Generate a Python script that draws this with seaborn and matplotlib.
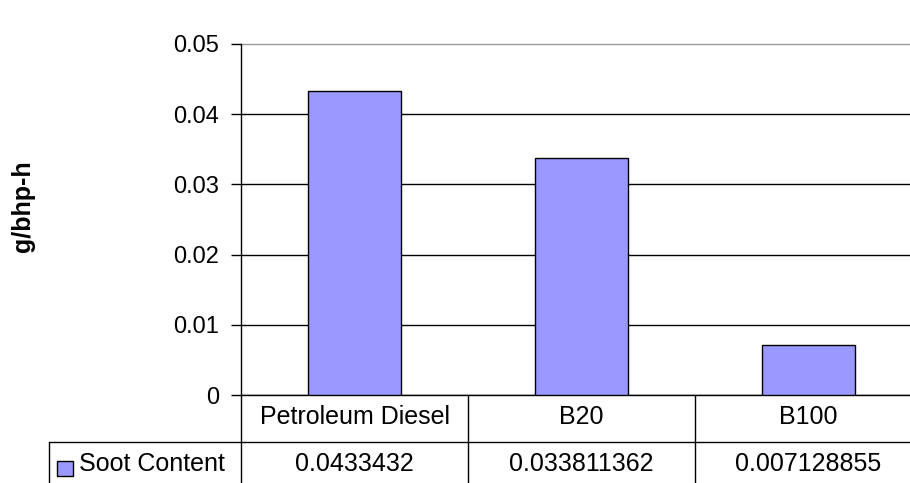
import pandas as pd
import matplotlib.pyplot as plt
from matplotlib.lines import Line2D
from matplotlib.patches import Rectangle
from matplotlib.transforms import blended_transform_factory
import seaborn as sns

# data
fuels = ['Petroleum Diesel', 'B20', 'B100']
soot = [0.0433432, 0.033811362, 0.007128855]
soot_labels = ['0.0433432', '0.033811362', '0.007128855']
series_name = 'Soot Content'
y_ticks = [0, 0.01, 0.02, 0.03, 0.04, 0.05]
y_tick_labels = ['0', '0.01', '0.02', '0.03', '0.04', '0.05']

df = pd.DataFrame({'fuel': fuels, 'soot': soot})

sns.set_theme(style='white')
plt.rcParams['font.family'] = ['Liberation Sans', 'DejaVu Sans']
plt.rcParams['text.color'] = 'black'
plt.rcParams['ytick.color'] = 'black'
plt.rcParams['ytick.labelcolor'] = 'black'

W, H = 910, 483
fig = plt.figure(figsize=(W / 100, H / 100), dpi=100)

def fx(px):
    return px / W

def fy(py):
    return 1 - py / H

# plot area in pixels
left, right, top, bottom = 241, 910, 44, 395
ax = fig.add_axes([fx(left), fy(bottom), fx(right - left), fy(top) - fy(bottom)])

sns.barplot(data=df, x='fuel', y='soot', color='#9999FF', edgecolor='black',
            linewidth=1, width=0.41, saturation=1, ax=ax, zorder=3)

ax.set_xlim(-0.5, 2.447)
ax.set_ylim(0, 0.05)
ax.set_yticks(y_ticks)
ax.set_yticklabels(y_tick_labels, fontsize=17, color='black')
ax.set_xticks([])
ax.set_xlabel('')
ax.set_ylabel('')
ax.tick_params(axis='y', direction='out', length=7, width=1, color='black', left=True, pad=9)

for s in ['top', 'right']:
    ax.spines[s].set_visible(False)
ax.spines['left'].set_color('black')
ax.spines['bottom'].set_color('black')
ax.spines['left'].set_linewidth(1)
ax.spines['bottom'].set_linewidth(1)

ax.grid(axis='y', color='black', linewidth=1, zorder=0)
ax.set_axisbelow(True)
glines = ax.yaxis.get_gridlines()
glines[-1].set_color('#999999')
glines[-1].set_clip_on(False)

fig.text(fx(23), fy(206), 'g/bhp-h', rotation=90, fontsize=18, fontweight='bold',
         ha='center', va='center', color='black')

# data table under the chart
trans = blended_transform_factory(ax.transData, fig.transFigure)
row1_top, row_mid, row2_bot = 395, 442, 483
for i in range(len(fuels) + 1):
    xpos = i - 0.5
    fig.add_artist(Line2D([xpos, xpos], [fy(row1_top), fy(row2_bot)], transform=trans,
                          color='black', linewidth=1))
fig.add_artist(Line2D([fx(49), 1], [fy(row_mid), fy(row_mid)], transform=fig.transFigure,
                      color='black', linewidth=1))
fig.add_artist(Line2D([fx(49), fx(49)], [fy(row_mid), fy(row2_bot)], transform=fig.transFigure,
                      color='black', linewidth=1))

for i, (name, lab) in enumerate(zip(fuels, soot_labels)):
    fig.text(i, fy(417), name, transform=trans, ha='center', va='center', fontsize=18)
    fig.text(i, fy(464), lab, transform=trans, ha='center', va='center', fontsize=18)

fig.add_artist(Rectangle((fx(57), fy(476)), fx(16), fy(461) - fy(476), transform=fig.transFigure,
                         facecolor='#9999FF', edgecolor='black', linewidth=1))
fig.text(fx(79), fy(464), series_name, ha='left', va='center', fontsize=18)

fig.savefig('out.png', dpi=100)
